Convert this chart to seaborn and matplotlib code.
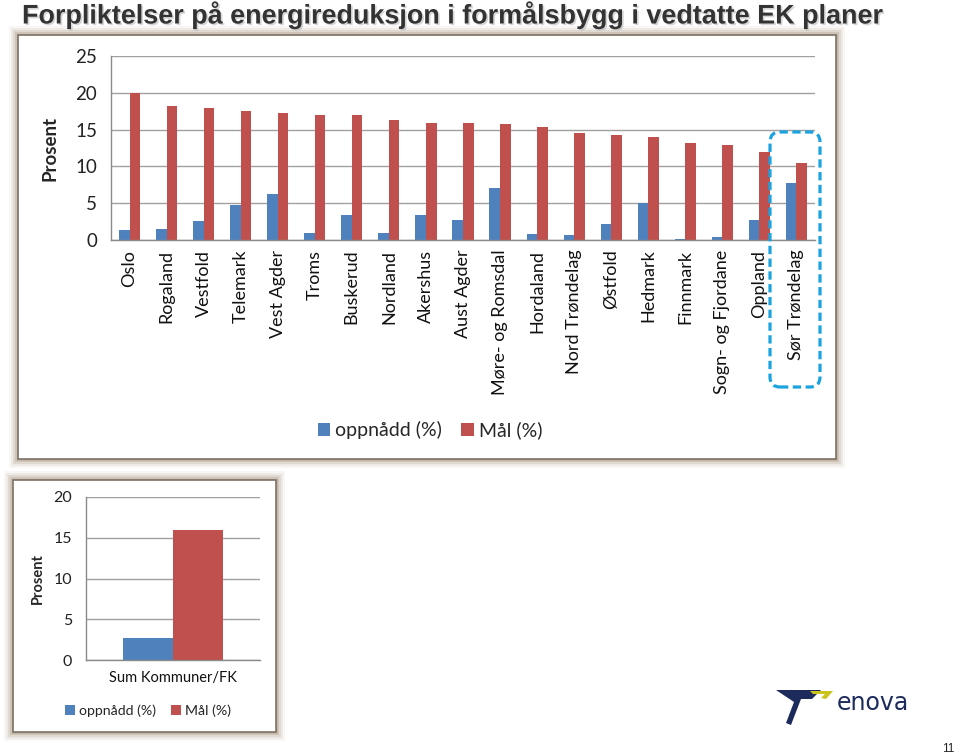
import numpy as np
import pandas as pd
import matplotlib
matplotlib.use('Agg')
import matplotlib.pyplot as plt
import seaborn as sns
from matplotlib.patches import Rectangle, FancyBboxPatch, Polygon
from matplotlib import patheffects

# Data (lest av figuren)
fylker = ['Oslo', 'Rogaland', 'Vestfold', 'Telemark', 'Vest Agder', 'Troms',
          'Buskerud', 'Nordland', 'Akershus', 'Aust Agder', 'Møre- og Romsdal',
          'Hordaland', 'Nord Trøndelag', 'Østfold', 'Hedmark', 'Finnmark',
          'Sogn- og Fjordane', 'Oppland', 'Sør Trøndelag']
oppnadd = [1.3, 1.45, 2.6, 4.7, 6.2, 0.95, 3.4, 0.95, 3.4, 2.7, 7.1,
           0.8, 0.7, 2.2, 5.0, 0.1, 0.4, 2.7, 7.8]
maal = [20.0, 18.2, 17.95, 17.55, 17.2, 17.0, 17.0, 16.3, 15.9, 15.9, 15.7,
        15.3, 14.6, 14.2, 14.05, 13.2, 12.9, 12.0, 10.45]

sum_kat = ['Sum Kommuner/FK']
sum_oppnadd = [2.7]
sum_maal = [15.9]

serier = ['oppnådd (%)', 'Mål (%)']
farger = ['#4f81bd', '#c0504d']

W, H = 960, 756

sns.set_style('white')
plt.rcParams['font.family'] = ['Lato', 'DejaVu Sans']

fig = plt.figure(figsize=(W / 100, H / 100), dpi=100)
fig.patch.set_facecolor('white')
tr = fig.dpi_scale_trans


def px(x, y):
    return (x / 100, (H - y) / 100)


def ramme(x0, y0, x1, y1):
    # myk beige skygge rundt panelet
    for k, a in [(9, 0.10), (7, 0.18), (5, 0.30), (3, 0.55), (1.5, 0.8)]:
        fig.add_artist(Rectangle(px(x0 - k, y1 + k), (x1 - x0 + 2 * k) / 100,
                                 (y1 - y0 + 2 * k) / 100, transform=tr,
                                 facecolor='#c2b4a4', edgecolor='none',
                                 alpha=a, zorder=-3))
    fig.add_artist(Rectangle(px(x0, y1), (x1 - x0) / 100, (y1 - y0) / 100,
                             transform=tr, facecolor='white',
                             edgecolor='#7d7164', linewidth=1.2, zorder=-2))


ramme(18, 35, 836, 459)
ramme(13, 480, 276, 732)


def stil(ax, ymax, fs):
    ax.set_facecolor('none')
    ax.set_ylim(0, ymax)
    ax.yaxis.grid(True, color='#a0a0a0', linewidth=1)
    ax.set_axisbelow(True)
    for s in ['top', 'right']:
        ax.spines[s].set_visible(False)
    for s in ['left', 'bottom']:
        ax.spines[s].set_color('#8a8a8a')
        ax.spines[s].set_linewidth(1)
    ax.tick_params(axis='y', length=5, color='#8a8a8a', labelsize=fs,
                   labelcolor='#222222', pad=5)
    ax.tick_params(axis='x', which='major', length=0)
    ax.tick_params(axis='x', which='minor', length=5, color='#8a8a8a')
    ax.set_xlabel('')


# Øverste diagram
df = pd.DataFrame({
    'fylke': fylker * 2,
    'serie': [serier[0]] * len(fylker) + [serier[1]] * len(fylker),
    'verdi': oppnadd + maal,
})
ax1 = fig.add_axes([111 / W, (H - 240) / H, 704 / W, 184 / H])
sns.barplot(data=df, x='fylke', y='verdi', hue='serie', palette=farger,
            width=0.57, saturation=1, linewidth=0, ax=ax1)
stil(ax1, 25, 13.5)
ax1.set_yticks([0, 5, 10, 15, 20, 25])
ax1.set_xlim(-0.5, len(fylker) - 0.5)
ax1.set_xticks(np.arange(len(fylker) + 1) - 0.5, minor=True)
ax1.set_xticks(range(len(fylker)))
ax1.set_xticklabels(fylker, rotation=90, fontsize=13, color='#111111')
ax1.tick_params(axis='x', which='major', pad=7)
ax1.set_ylabel('Prosent', fontsize=13.5, fontweight='bold', labelpad=12)
h, l = ax1.get_legend_handles_labels()
ax1.get_legend().remove()
fig.legend(h, l, loc='center', bbox_to_anchor=(430 / W, 1 - 430 / H),
           ncol=2, frameon=False, fontsize=14, handlelength=0.65,
           handleheight=0.65, handletextpad=0.25, columnspacing=1.0)

# Nederste diagram
df2 = pd.DataFrame({
    'kat': sum_kat * 2,
    'serie': serier,
    'verdi': sum_oppnadd + sum_maal,
})
ax2 = fig.add_axes([86 / W, (H - 660) / H, 174 / W, 163 / H])
sns.barplot(data=df2, x='kat', y='verdi', hue='serie', palette=farger,
            width=0.575, saturation=1, linewidth=0, ax=ax2)
stil(ax2, 20, 11.5)
ax2.set_yticks([0, 5, 10, 15, 20])
ax2.set_xlim(-0.5, 0.5)
ax2.set_xticks([-0.5, 0.5], minor=True)
ax2.tick_params(axis='x', which='major', labelsize=10.5, labelcolor='#111111', pad=8)
ax2.set_ylabel('Prosent', fontsize=10.5, fontweight='bold', labelpad=6)
h2, l2 = ax2.get_legend_handles_labels()
ax2.get_legend().remove()
fig.legend(h2, l2, loc='center', bbox_to_anchor=(148 / W, 1 - 711 / H),
           ncol=2, frameon=False, fontsize=10.2, handlelength=0.7,
           handleheight=0.7, handletextpad=0.25, columnspacing=1.1)

# Tittel
fig.text(22 / W, 1 - 0.5 / H,
         'Forpliktelser på energireduksjon i formålsbygg i vedtatte EK planer',
         ha='left', va='top', fontsize=19.4, fontweight='bold', color='#333333',
         family=['Liberation Sans', 'DejaVu Sans'],
         path_effects=[patheffects.withSimplePatchShadow(offset=(1.2, -1.2),
                                                         shadow_rgbFace='#bbbbbb',
                                                         alpha=0.6)])

# Markering av Sør Trøndelag
fig.add_artist(FancyBboxPatch(px(770, 387), 50 / 100, (387 - 132) / 100,
                              boxstyle='round,pad=0,rounding_size=0.1',
                              transform=tr, facecolor='none',
                              edgecolor='#1aa3de', linewidth=2.3,
                              linestyle=(0, (2.6, 1.4)), zorder=5))

# Enova-logo
fig.add_artist(Polygon([px(776, 690), px(821, 690), px(812, 699), px(801, 699),
                        px(791, 725), px(786, 723), px(794, 702)],
                       closed=True, transform=tr, facecolor='#1c2b5c',
                       edgecolor='none'))
fig.add_artist(Polygon([px(810, 691), px(833, 691), px(826, 699), px(821, 698),
                        px(825, 694), px(813, 694)],
                       closed=True, transform=tr, facecolor='#c9c31c',
                       edgecolor='none'))
fig.text(837 / W, 1 - 703 / H, 'enova', ha='left', va='center', fontsize=17,
         color='#1c2b5c', family=['DejaVu Sans'])

fig.text(948 / W, 1 - 749 / H, '11', ha='center', va='center', fontsize=8.5,
         color='#222222', family=['Liberation Sans', 'DejaVu Sans'])

fig.savefig('out.png', dpi=100)
